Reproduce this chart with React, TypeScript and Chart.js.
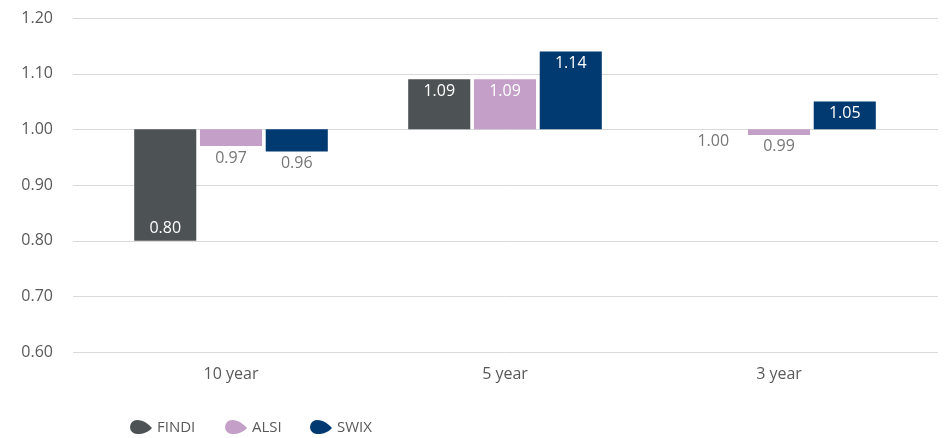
import React, { useEffect, useRef } from "react";
import { Chart, registerables } from "chart.js";

Chart.register(...registerables);

const categories = ["10 year", "5 year", "3 year"];
const seriesNames = ["FINDI", "ALSI", "SWIX"];
const findiValues = [0.8, 1.09, 1.0];
const alsiValues = [0.97, 1.09, 0.99];
const swixValues = [0.96, 1.14, 1.05];
const baseline = 1.0;
const yMin = 0.6;
const yMax = 1.2;
const yStep = 0.1;

const seriesValues = [findiValues, alsiValues, swixValues];
const seriesColors = ["#4d5254", "#c4a0c9", "#003a70"];
const FONT = "'Open Sans', 'Noto Sans', sans-serif";

const gridPlugin = {
  id: "extendedGrid",
  beforeDatasetsDraw(chart: any) {
    const { ctx, chartArea, scales } = chart;
    const y = scales.y;
    ctx.save();
    ctx.strokeStyle = "#d9d9d9";
    ctx.lineWidth = 1;
    y.ticks.forEach((t: any) => {
      const py = Math.round(y.getPixelForValue(t.value)) + 0.5;
      ctx.beginPath();
      ctx.moveTo(chartArea.left - 21, py);
      ctx.lineTo(chartArea.right + 22, py);
      ctx.stroke();
    });
    ctx.restore();
  },
};

const labelPlugin = {
  id: "barLabels",
  afterDatasetsDraw(chart: any) {
    const { ctx, scales } = chart;
    const y = scales.y;
    ctx.save();
    ctx.font = `16px ${FONT}`;
    ctx.textAlign = "center";
    ctx.textBaseline = "middle";
    seriesValues.forEach((vals, di) => {
      const meta = chart.getDatasetMeta(di);
      meta.data.forEach((el: any, i: number) => {
        const v = vals[i];
        const yEnd = y.getPixelForValue(v);
        const yBase = y.getPixelForValue(baseline);
        const h = Math.abs(yEnd - yBase);
        const up = v > baseline;
        let ty: number;
        let color: string;
        if (h > 25) {
          ty = up ? yEnd + 12 : yEnd - 12;
          color = "#ffffff";
        } else {
          ty = up ? yEnd - 12 : Math.max(yEnd, yBase) + 12;
          color = "#767676";
        }
        ctx.fillStyle = color;
        ctx.fillText(v.toFixed(2), el.x, ty);
      });
    });
    ctx.restore();
  },
};

const legendPlugin = {
  id: "dropLegend",
  afterDraw(chart: any) {
    const { ctx } = chart;
    const cy = 427;
    const starts = [130, 225, 310];
    ctx.save();
    ctx.font = `15px ${FONT}`;
    ctx.textBaseline = "middle";
    ctx.textAlign = "left";
    seriesNames.forEach((name, i) => {
      const x = starts[i];
      ctx.fillStyle = seriesColors[i];
      ctx.beginPath();
      ctx.arc(x + 7, cy, 7, Math.PI * 0.5, Math.PI * 1.5);
      ctx.bezierCurveTo(x + 14, cy - 7, x + 18, cy - 3, x + 22, cy + 1);
      ctx.bezierCurveTo(x + 18, cy + 5, x + 14, cy + 7, x + 7, cy + 7);
      ctx.closePath();
      ctx.fill();
      ctx.fillStyle = "#595959";
      ctx.fillText(name, x + 27, cy + 1);
    });
    ctx.restore();
  },
};

export default function App() {
  const canvasRef = useRef<HTMLCanvasElement>(null);

  useEffect(() => {
    document.body.style.margin = "0";
    const canvas = canvasRef.current;
    if (!canvas) return;
    const chart = new Chart(canvas, {
      type: "bar",
      data: {
        labels: categories,
        datasets: seriesNames.map((name, i) => ({
          label: name,
          data: seriesValues[i].map((v) => [baseline, v] as [number, number]),
          backgroundColor: seriesColors[i],
          borderWidth: 0,
          categoryPercentage: 0.72,
          barPercentage: 0.944,
        })),
      },
      options: {
        animation: false,
        responsive: true,
        maintainAspectRatio: false,
        layout: { padding: { top: 18, right: 30, left: 0, bottom: 0 } },
        plugins: {
          legend: { display: false },
          tooltip: { enabled: false },
        },
        scales: {
          x: {
            grid: { display: false, drawTicks: false },
            border: { display: false },
            ticks: {
              color: "#595959",
              font: { family: FONT, size: 16 },
              padding: 13,
            },
            afterFit: (s: any) => {
              s.height = 86;
            },
          },
          y: {
            min: yMin,
            max: yMax,
            grid: { display: false, drawTicks: false },
            border: { display: false },
            ticks: {
              stepSize: yStep,
              color: "#595959",
              font: { family: FONT, size: 16 },
              padding: 41,
              callback: (v: any) => Number(v).toFixed(2),
            },
            afterFit: (s: any) => {
              s.width = 94;
              s.paddingTop = 10;
              s.paddingBottom = 10;
            },
          },
        },
      },
      plugins: [gridPlugin, labelPlugin, legendPlugin],
    });
    return () => chart.destroy();
  }, []);

  return (
    <div style={{ width: 946, height: 438, position: "relative" }}>
      <canvas ref={canvasRef} />
    </div>
  );
}
